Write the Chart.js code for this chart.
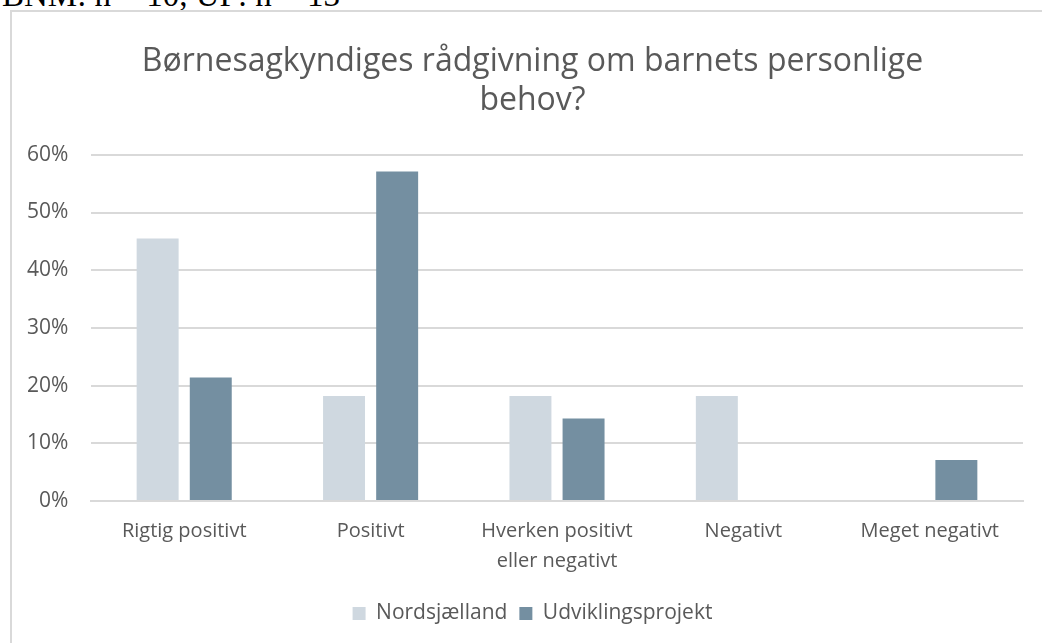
<!DOCTYPE html>
<html>
<head>
<meta charset="utf-8">
<script src="https://cdn.jsdelivr.net/npm/chart.js@4"></script>
<style>
  body { margin: 0; background: #fff; overflow: hidden; }
  #note { position: absolute; left: 2px; top: -23px; font: 33px "Liberation Serif", serif; color: #000; white-space: nowrap; }
  #box { position: absolute; left: 10px; top: 10px; width: 1040px; height: 640px; border: 2px solid #d9d9d9; }
  #box canvas { display: block; }
</style>
</head>
<body>
<div id="note">BNM: n = 10, UP: n = 13</div>
<div id="box"><canvas id="chart" width="1030" height="630"></canvas></div>
<script>
// Børnesagkyndiges rådgivning - share of answers per category
const categories = ["Rigtig positivt", "Positivt", ["Hverken positivt", "eller negativt"], "Negativt", "Meget negativt"];
const nordsjaelland = [45.5, 18.2, 18.2, 18.2, 0];
const udviklingsprojekt = [21.4, 57.1, 14.3, 0, 7.1];
const yTicks = [0, 10, 20, 30, 40, 50, 60];

const grey = "#595959";

document.addEventListener("DOMContentLoaded", () => {
  const ctx = document.getElementById("chart").getContext("2d");

  new Chart(ctx, {
    type: "bar",
    data: {
      labels: categories,
      datasets: [
        { label: "Nordsjælland", data: nordsjaelland, backgroundColor: "#cfd8e0" },
        { label: "Udviklingsprojekt", data: udviklingsprojekt, backgroundColor: "#748fa1" }
      ]
    },
    options: {
      responsive: false,
      animation: false,
      layout: { padding: { top: 10, right: 19, bottom: 8, left: 30 } },
      datasets: { bar: { categoryPercentage: 0.57, barPercentage: 0.79 } },
      scales: {
        x: {
          grid: { display: false, drawTicks: false },
          border: { color: "#d9d9d9", width: 2 },
          ticks: { color: grey, font: { family: "Open Sans", size: 20, lineHeight: 1.5 }, padding: 15, maxRotation: 0 },
          afterFit: (s) => { s.height = 90; }
        },
        y: {
          min: 0,
          max: 60,
          afterBuildTicks: (s) => { s.ticks = yTicks.map(v => ({ value: v })); },
          grid: { color: "#d9d9d9", lineWidth: 2, drawTicks: false },
          border: { display: false },
          // mirrored + far-aligned so the labels sit left of the axis without being clipped
          ticks: {
            color: grey, font: { family: "Open Sans", size: 21 }, callback: (v) => v + "%",
            mirror: true, crossAlign: "far", padding: -64
          },
          afterFit: (s) => { s.width = 49; }
        }
      },
      plugins: {
        title: {
          display: true,
          text: ["Børnesagkyndiges rådgivning om barnets personlige", "behov?"],
          color: grey,
          font: { family: "Open Sans", size: 32, weight: "normal", lineHeight: 1.2 },
          padding: { top: 21, bottom: 35 }
        },
        legend: {
          position: "bottom",
          labels: { color: grey, font: { family: "Open Sans", size: 21 }, boxWidth: 13, boxHeight: 13, padding: 12 }
        },
        tooltip: { enabled: false }
      }
    }
  });
});
</script>
</body>
</html>
